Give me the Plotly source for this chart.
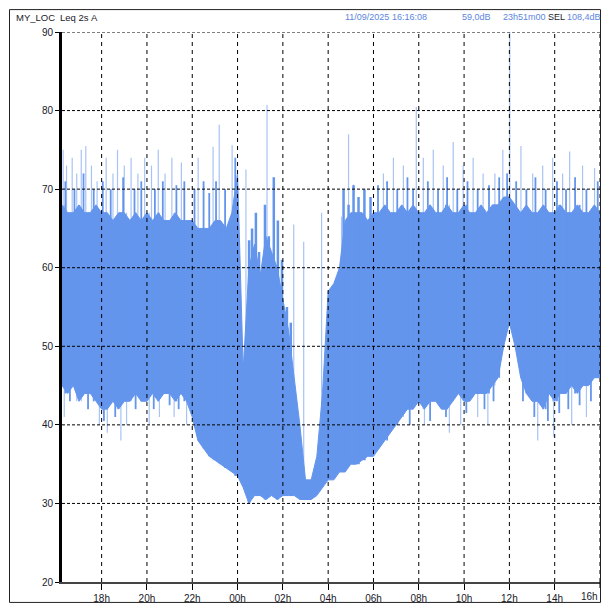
import plotly.graph_objects as go

# ---- data ----
START_HOUR = 16.25          # 16:15, 15-minute buckets
STEP_HOURS = 0.25

LOW_DB = [45, 44, 45, 43, 44, 44, 43, 42, 42, 43,
          42, 43, 43, 44, 43, 43, 44, 43, 44, 44,
          43, 44, 43, 41, 38, 37, 36, 35.5, 35, 34.5,
          34, 33.5, 32, 30, 31, 31, 30.5, 31, 30.5, 31,
          31, 31, 30.5, 30.5, 30.5, 31, 32, 33, 33, 34,
          34, 35, 35, 35.5, 36, 36, 37, 38, 39, 40,
          41, 42, 42, 43, 42, 43, 43, 42, 42, 43,
          44, 43, 43, 44, 44, 44, 45, 46, 50, 53,
          50, 46, 44, 43, 43, 42, 44, 43, 44, 44,
          45, 44, 45, 45, 46, 46]

HIGH_DB = [68, 67, 67, 68, 67, 67, 68, 67, 67, 66,
           67, 67, 66, 67, 66, 67, 66, 67, 66, 66,
           67, 66, 66, 66, 65, 65, 65, 66, 66, 65,
           67, 72, 47, 60, 63, 59, 64, 62, 60, 56,
           52, 46, 40, 33, 33, 36, 44, 57, 58, 60,
           66, 67, 67, 67, 66, 67, 67, 68, 67, 67,
           68, 67, 68, 67, 67, 68, 67, 67, 68, 67,
           67, 68, 67, 67, 68, 67, 68, 68, 69, 69,
           68, 67, 68, 67, 67, 68, 67, 67, 68, 67,
           67, 68, 67, 67, 68, 67]

# short isolated peaks (light streaks): hour (24+ = next day), peak dB
PEAK_HOURS = [16.3, 16.45, 16.7, 16.9, 17.1, 17.3, 17.55, 17.8, 18.2, 18.5,
              18.7, 19.0, 19.3, 19.6, 19.9, 20.2, 20.5, 20.8, 21.1, 21.52,
              22.26, 22.92, 23.19, 23.76, 24.37, 25.3, 26.48, 26.92, 27.71, 28.59,
              28.9, 29.12, 30.44, 30.88, 31.32, 31.89, 32.2, 32.64, 33.08, 33.52,
              33.96, 34.4, 34.84, 35.36, 35.71, 36.02, 36.51, 37.03, 37.47, 37.91,
              38.35, 38.66, 39.23, 39.76]
PEAK_DB = [75, 73, 74, 72, 75, 75.5, 73, 71, 74, 72,
           75, 73, 74, 72, 74, 73, 75, 72, 74, 73.4,
           74, 75.4, 78.2, 75.6, 72.5, 80.7, 65.5, 63.3, 67, 66.5,
           77, 70.6, 72, 74, 73, 80.5, 74, 75, 73, 76,
           73, 74, 72, 72, 75, 90, 75.5, 72, 73, 74,
           72, 74.8, 73, 72.7]

# ragged top of the dense band (solid)
RAG_TOP_HOURS = [16.4, 16.8, 17.2, 17.65, 18.05, 18.4, 18.95, 19.45, 19.75, 20.35,
                 20.7, 21.3, 21.65, 22.1, 22.5, 22.75, 23.05, 23.45, 23.9, 30.2,
                 30.6, 31.05, 31.5, 31.75, 32.4, 32.85, 33.25, 33.7, 34.15, 34.6,
                 35.1, 35.55, 35.9, 36.3, 36.75, 37.15, 37.6, 38.1, 38.5, 38.9,
                 39.4, 39.9]
RAG_TOP_DB = [71, 70, 72, 70, 71, 70, 71.5, 70, 71, 70,
              71, 70.5, 71, 70, 71, 69.5, 71, 70, 74, 70.5,
              71, 70, 71.5, 70, 71, 70, 71.5, 70, 71, 70,
              70.5, 71.5, 72, 71, 70, 71.5, 70, 71, 70, 71.5,
              70, 71]

# dense night bursts (solid bars)
BURST_HOURS = [24.51, 24.64, 24.81, 24.95, 25.21, 25.38, 25.6, 25.78, 25.96, 26.18,
               26.35, 28.68, 28.9, 29.12, 29.34, 29.6, 29.87]
BURST_DB = [63.5, 65, 67, 62, 68, 64, 71.5, 66, 61, 55,
            53, 70, 68, 70.5, 69, 70, 69]

# ragged bottom of the dense band (solid)
RAG_LOW_HOURS = [16.6, 17.4, 18.1, 18.6, 19.5, 20.3, 21.0, 21.4, 31.6, 32.5,
                 33.2, 34.1, 34.9, 35.3, 36.6, 37.1, 37.7, 38.2, 38.6, 39.1,
                 39.6]
RAG_LOW_DB = [43, 42, 40.5, 41, 42, 42, 42.5, 42, 40, 40.5,
              41, 41.5, 42, 43, 43, 41, 40.5, 41.5, 42, 42.5,
              43]

# short isolated dips (light streaks)
DIP_HOURS = [16.35, 17.9, 18.25, 18.85, 19.1, 20.1, 20.55, 21.2, 21.75, 32.25,
             33.35, 33.85, 34.6, 35.05, 37.25, 37.95, 38.75, 39.4]
DIP_DB = [41, 40, 39, 38, 40, 40, 41, 41, 40, 40,
          39, 40, 41, 40, 38, 38.5, 40, 41]

X_TICKS = [18, 20, 22, 24, 26, 28, 30, 32, 34, 36, 38, 40]
X_LABELS = ["18h", "20h", "22h", "00h", "02h", "04h", "06h", "08h", "10h", "12h", "14h", "16h"]
Y_TICKS = [20, 30, 40, 50, 60, 70, 80, 90]

HEADER_LEFT = ["MY_LOC", "Leq 2s", "A"]
HEADER_RIGHT = ["11/09/2025 16:16:08", "59,0dB", "23h51m00", "SEL", "108,4dB"]

# ---- build ----
hours = [START_HOUR + STEP_HOURS * i for i in range(len(LOW_DB))]
X_MIN, X_MAX = START_HOUR, 40.0

def bucket(t):
    i = int(round((t - START_HOUR) / STEP_HOURS))
    return max(0, min(len(LOW_DB) - 1, i))

MAIN = "#6495ED"
LIGHT = "#a9c3f5"

def segs(ts, vs, base):
    xs, ys = [], []
    for t, v in zip(ts, vs):
        xs += [t, t, None]
        ys += [base[bucket(t)], v, None]
    return xs, ys

fig = go.Figure()
x1, y1 = segs(PEAK_HOURS, PEAK_DB, LOW_DB)
fig.add_trace(go.Scatter(x=x1, y=y1, mode="lines", line=dict(color=LIGHT, width=1.2),
                         hoverinfo="skip", showlegend=False))
x2, y2 = segs(DIP_HOURS, DIP_DB, HIGH_DB)
fig.add_trace(go.Scatter(x=x2, y=y2, mode="lines", line=dict(color=LIGHT, width=1.2),
                         hoverinfo="skip", showlegend=False))
# dense band: filled between the low and high envelopes
fig.add_trace(go.Scatter(x=hours, y=LOW_DB, mode="lines", line=dict(color=MAIN, width=1),
                         hoverinfo="skip", showlegend=False))
fig.add_trace(go.Scatter(x=hours, y=HIGH_DB, mode="lines", line=dict(color=MAIN, width=1),
                         fill="tonexty", fillcolor=MAIN, hoverinfo="skip", showlegend=False))
x3, y3 = segs(RAG_TOP_HOURS, RAG_TOP_DB, LOW_DB)
fig.add_trace(go.Scatter(x=x3, y=y3, mode="lines", line=dict(color=MAIN, width=1.8),
                         hoverinfo="skip", showlegend=False))
x4, y4 = segs(RAG_LOW_HOURS, RAG_LOW_DB, HIGH_DB)
fig.add_trace(go.Scatter(x=x4, y=y4, mode="lines", line=dict(color=MAIN, width=1.8),
                         hoverinfo="skip", showlegend=False))
x5, y5 = segs(BURST_HOURS, BURST_DB, LOW_DB)
fig.add_trace(go.Scatter(x=x5, y=y5, mode="lines", line=dict(color=MAIN, width=2.5),
                         hoverinfo="skip", showlegend=False))

# page body has an 8px margin: figure is drawn from (8, 8) of the window,
# and is sized so that it does not overflow the window
OFF = 8
W, H = 609 - 2 * OFF, 613 - 2 * OFF
PLOT_L, PLOT_R, PLOT_T, PLOT_B = 62, 600, 32, 584     # window pixels
L, R, T, B = PLOT_L - OFF, W + OFF - PLOT_R, PLOT_T - OFF, H + OFF - PLOT_B
pw, ph = W - L - R, H - T - B

def pxx(x):      # absolute window pixel -> paper coord
    return (x - OFF - L) / pw

def pyy(y):
    return (H - B - (y - OFF)) / ph

FONT = "Liberation Sans, Arial, sans-serif"
TXT = "#1a1a2a"

shapes = []
for t in X_TICKS:
    shapes.append(dict(type="line", xref="x", yref="paper", x0=t, x1=t, y0=0, y1=1,
                       line=dict(color="black", width=1, dash="4px,4px"), layer="above"))
for v in Y_TICKS[1:]:
    shapes.append(dict(type="line", xref="paper", yref="y", x0=0, x1=1, y0=v, y1=v,
                       line=dict(color="black", width=1, dash="3px,2px"), layer="above"))
# tick mark for the last x tick (at the right edge)
shapes.append(dict(type="line", xref="x", yref="paper", x0=X_TICKS[-1], x1=X_TICKS[-1],
                   y0=pyy(584), y1=pyy(590), line=dict(color="black", width=1), layer="above"))
# outer frame
shapes.append(dict(type="rect", xref="paper", yref="paper",
                   x0=pxx(9.5), x1=pxx(600.5), y0=pyy(604.5), y1=pyy(9.5),
                   line=dict(color="#222", width=1), layer="below"))

ann = []
left_x = [14, 58, 89]
for s, x in zip(HEADER_LEFT, left_x):
    ann.append(dict(text=s, x=pxx(x), y=pyy(17), xref="paper", yref="paper",
                    xanchor="left", yanchor="middle", showarrow=False,
                    font=dict(size=9.5, color=TXT, family=FONT)))
right_x = [343, 460, 501, 546, 565]
right_c = ["#5b86e0", "#5b86e0", "#5b86e0", TXT, "#5b86e0"]
for s, x, c in zip(HEADER_RIGHT, right_x, right_c):
    ann.append(dict(text=s, x=pxx(x), y=pyy(17), xref="paper", yref="paper",
                    xanchor="left", yanchor="middle", showarrow=False,
                    font=dict(size=9, color=c, family=FONT)))
# last x tick label, right-aligned at the plot edge
ann.append(dict(text=X_LABELS[-1], x=pxx(600), xref="paper", y=pyy(599), yref="paper",
                xanchor="right", yanchor="middle", showarrow=False,
                font=dict(size=10, color=TXT, family=FONT)))

fig.update_layout(
    width=W, height=H,
    margin=dict(l=L, r=R, t=T, b=B, pad=0),
    paper_bgcolor="white", plot_bgcolor="white",
    shapes=shapes, annotations=ann,
    font=dict(family=FONT, size=10, color=TXT),
    xaxis=dict(range=[X_MIN, X_MAX], tickvals=X_TICKS[:-1], ticktext=X_LABELS[:-1],
               showgrid=False, zeroline=False, showline=True, linecolor="#444", linewidth=2,
               ticks="outside", ticklen=6, tickcolor="black", tickwidth=1,
               layer="above traces", fixedrange=True),
    yaxis=dict(range=[20, 90], tickvals=Y_TICKS, showgrid=False, zeroline=False,
               showline=True, linecolor="black", linewidth=3,
               ticks="outside", ticklen=4, tickcolor="black", tickwidth=1,
               layer="above traces", fixedrange=True),
)

fig.write_html("out.html")
